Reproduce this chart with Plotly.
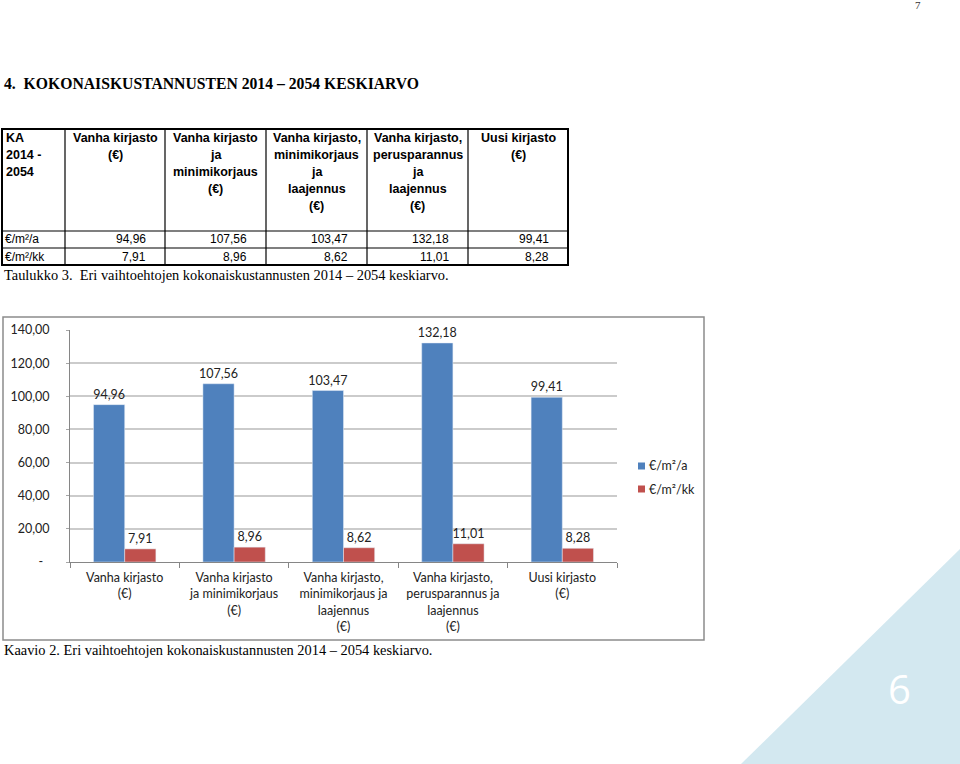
import plotly.graph_objects as go

# ---------------- data ----------------
categories = [
    "Vanha kirjasto<br>(€)",
    "Vanha kirjasto<br>ja minimikorjaus<br>(€)",
    "Vanha kirjasto,<br>minimikorjaus ja<br>laajennus<br>(€)",
    "Vanha kirjasto,<br>perusparannus ja<br>laajennus<br>(€)",
    "Uusi kirjasto<br>(€)",
]
table_headers = [
    ["KA", "2014 -", "2054"],
    ["Vanha kirjasto", "(€)"],
    ["Vanha kirjasto", "ja", "minimikorjaus", "(€)"],
    ["Vanha kirjasto,", "minimikorjaus", "ja", "laajennus", "(€)"],
    ["Vanha kirjasto,", "perusparannus", "ja", "laajennus", "(€)"],
    ["Uusi kirjasto", "(€)"],
]
series_names = ["€/m²/a", "€/m²/kk"]
per_year = [94.96, 107.56, 103.47, 132.18, 99.41]
per_month = [7.91, 8.96, 8.62, 11.01, 8.28]
y_tick_vals = [0, 20, 40, 60, 80, 100, 120, 140]

heading = "4.  KOKONAISKUSTANNUSTEN 2014 – 2054 KESKIARVO"
table_caption = "Taulukko 3.  Eri vaihtoehtojen kokonaiskustannusten 2014 – 2054 keskiarvo."
chart_caption = "Kaavio 2. Eri vaihtoehtojen kokonaiskustannusten 2014 – 2054 keskiarvo."

BLUE = "#4f81bd"
RED = "#c0504d"
W, H = 960, 764


def fmt(v):
    return f"{v:.2f}".replace(".", ",")


def px(x):
    return x / W


def py(y):
    return 1 - y / H


y_tick_text = [("-  " if v == 0 else fmt(v)) for v in y_tick_vals]
label_font = dict(family="Lato", size=12.5, color="#222")

fig = go.Figure()
for name, vals, col in [(series_names[0], per_year, BLUE), (series_names[1], per_month, RED)]:
    fig.add_trace(go.Bar(
        x=categories, y=vals, name=name, marker_color=col,
        text=[fmt(v) for v in vals], textposition="outside", constraintext="none",
        textfont=label_font, cliponaxis=False,
    ))

shapes = []
annotations = []

# background triangle
shapes.append(dict(type="path", xref="paper", yref="paper", layer="below",
                   path=f"M {px(741)} {py(764)} L 1 {py(764)} L 1 {py(549)} Z",
                   fillcolor="#d3e8f0", line=dict(width=0)))
annotations.append(dict(xref="paper", yref="paper", x=px(899), y=py(688), text="6",
                        showarrow=False, font=dict(family="Open Sans", size=40, color="white"),
                        xanchor="center", yanchor="middle"))

# page number
annotations.append(dict(xref="paper", yref="paper", x=px(918), y=py(5), text="7",
                        showarrow=False, font=dict(family="Liberation Serif", size=11, color="#333"),
                        xanchor="center", yanchor="middle"))

# heading
annotations.append(dict(xref="paper", yref="paper", x=px(2), y=py(83), text="<b>" + heading + "</b>",
                        showarrow=False, font=dict(family="Liberation Serif", size=15.7, color="black"),
                        xanchor="left", yanchor="middle"))

# ---------------- table ----------------
col_x = [2, 65, 165, 266, 367, 468, 568]
row_y = [129, 231, 248, 265]
shapes.append(dict(type="rect", xref="paper", yref="paper", x0=px(col_x[0]), x1=px(col_x[-1]),
                   y0=py(row_y[0]), y1=py(row_y[-1]), line=dict(color="black", width=2)))
for cx in col_x[1:-1]:
    shapes.append(dict(type="line", xref="paper", yref="paper", x0=px(cx), x1=px(cx),
                       y0=py(row_y[0]), y1=py(row_y[-1]), line=dict(color="black", width=1.2)))
for ry in row_y[1:-1]:
    shapes.append(dict(type="line", xref="paper", yref="paper", x0=px(col_x[0]), x1=px(col_x[-1]),
                       y0=py(ry), y1=py(ry), line=dict(color="black", width=1.2)))

for ci, lines in enumerate(table_headers):
    for li, t in enumerate(lines):
        if ci == 0:
            xx, anc = col_x[0] + 2, "left"
        else:
            xx, anc = (col_x[ci] + col_x[ci + 1]) / 2, "center"
        annotations.append(dict(xref="paper", yref="paper", x=px(xx), y=py(138 + 17 * li),
                                text="<b>" + t + "</b>", showarrow=False, xanchor=anc, yanchor="middle",
                                font=dict(family="Liberation Sans", size=12.5, color="black")))

for ri, (label, vals) in enumerate([(series_names[0], per_year), (series_names[1], per_month)]):
    yy = (row_y[ri + 1] + row_y[ri + 2]) / 2
    annotations.append(dict(xref="paper", yref="paper", x=px(3), y=py(yy), text=label,
                            showarrow=False, xanchor="left", yanchor="middle",
                            font=dict(family="Liberation Sans", size=12, color="black")))
    for ci, v in enumerate(vals):
        annotations.append(dict(xref="paper", yref="paper", x=px(col_x[ci + 2] - 17), y=py(yy),
                                text=fmt(v), showarrow=False, xanchor="right", yanchor="middle",
                                font=dict(family="Liberation Sans", size=12, color="black")))

annotations.append(dict(xref="paper", yref="paper", x=px(2), y=py(275), text=table_caption,
                        showarrow=False, xanchor="left", yanchor="middle",
                        font=dict(family="Liberation Serif", size=14.4, color="black")))

# chart frame
shapes.append(dict(type="rect", xref="paper", yref="paper", x0=px(3), x1=px(704),
                   y0=py(317), y1=py(640), line=dict(color="#8c8c8c", width=1.5), layer="below"))

# legend (drawn as small squares + text, Excel style)
for i, (name, col) in enumerate([(series_names[0], BLUE), (series_names[1], RED)]):
    yc = 466 + 23 * i
    shapes.append(dict(type="rect", xref="paper", yref="paper", x0=px(638), x1=px(645),
                       y0=py(yc + 3.5), y1=py(yc - 3.5), fillcolor=col, line=dict(width=0)))
    annotations.append(dict(xref="paper", yref="paper", x=px(647), y=py(yc), text=name,
                            showarrow=False, xanchor="left", yanchor="middle",
                            font=dict(family="Lato", size=12.5, color="#222")))

annotations.append(dict(xref="paper", yref="paper", x=px(2), y=py(650), text=chart_caption,
                        showarrow=False, xanchor="left", yanchor="middle",
                        font=dict(family="Liberation Serif", size=14.4, color="black")))

fig.update_layout(
    width=W, height=H, margin=dict(l=0, r=0, t=0, b=0, pad=0, autoexpand=False),
    paper_bgcolor="white", plot_bgcolor="white",
    barmode="group", bargap=0.43, bargroupgap=0,
    showlegend=False,
    shapes=shapes, annotations=annotations,
    xaxis=dict(domain=[px(70), px(617)], showgrid=False, showline=True, linecolor="#868686",
               linewidth=1, ticks="outside", tickson="boundaries", ticklen=5, tickcolor="#868686",
               ticklabelstandoff=4, automargin=False,
               tickfont=dict(family="Lato", size=12.5, color="#222"), tickangle=0),
    yaxis=dict(domain=[py(562), py(330)], range=[0, 140], tickvals=y_tick_vals, ticktext=y_tick_text,
               showgrid=True, gridcolor="#cbcbcb", gridwidth=1.5, showline=True, linecolor="#868686",
               ticks="outside", ticklen=3, tickcolor="#a6a6a6", ticklabelstandoff=14, automargin=False,
               tickfont=dict(family="Lato", size=12.5, color="#222"), zeroline=False),
)

fig.write_html("out.html")
